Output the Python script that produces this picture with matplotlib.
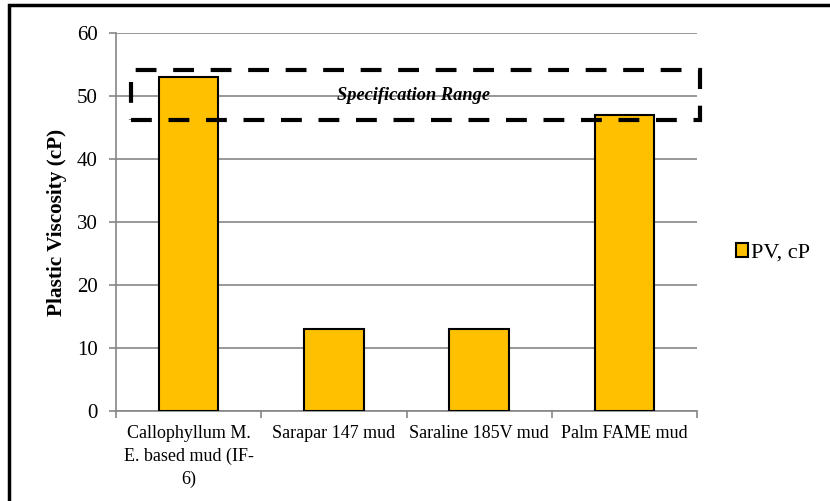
import matplotlib
matplotlib.use('Agg')
import matplotlib.pyplot as plt
from matplotlib.patches import Rectangle

plt.rcParams['font.family'] = ['Liberation Serif', 'DejaVu Serif']

categorias = ['Callophyllum M.\nE. based mud (IF-\n6)', 'Sarapar 147 mud',
              'Saraline 185V mud', 'Palm FAME mud']
pv = [53, 13, 13, 47]
serie_nome = 'PV, cP'
faixa_min = 46.2
faixa_max = 54.1

cinza = '#868686'
dourado = '#FFC000'

fig = plt.figure(figsize=(8.30, 5.01), dpi=100)
ax = fig.add_axes([116/830, 1 - 411/501, 581/830, 378/501])

x = list(range(len(categorias)))
ax.bar(x, pv, width=0.41, color=dourado, edgecolor='black', linewidth=1.5,
       label=serie_nome, zorder=3)

ax.set_xlim(-0.5, len(categorias) - 0.5)
ax.set_ylim(0, 60)
ax.set_yticks(range(0, 61, 10))
ax.yaxis.grid(True, color=cinza, linewidth=1.2)
ax.set_axisbelow(True)

ax.set_xticks(x)
ax.set_xticklabels(categorias, fontsize=13, linespacing=1.42)
ax.set_xticks([i - 0.5 for i in range(len(categorias) + 1)], minor=True)
ax.tick_params(axis='x', which='major', length=0, pad=10)
ax.tick_params(axis='x', which='minor', length=5, color=cinza, width=1.2)
ax.tick_params(axis='y', length=5, color=cinza, width=1.2, pad=8, labelsize=15)

for lado in ['top', 'right']:
    ax.spines[lado].set_visible(False)
for lado in ['left', 'bottom']:
    ax.spines[lado].set_color(cinza)
    ax.spines[lado].set_linewidth(1.2)

# faixa de especificacao tracejada
ax.add_patch(Rectangle((-0.397, faixa_min), 3.52 + 0.397, faixa_max - faixa_min,
                       fill=False, edgecolor='black', linewidth=3,
                       linestyle=(0, (5, 4)), clip_on=False, zorder=4))
ax.text(1.55, (faixa_min + faixa_max) / 2, 'Specification Range', ha='center',
        va='center', fontsize=13.2, fontweight='bold', fontstyle='italic', zorder=5)

fig.text(57/830, 1 - 222/501, 'Plastic Viscosity (cP)', rotation=90,
         ha='center', va='center', fontsize=15.3, fontweight='bold')

fig.legend(loc='center left', bbox_to_anchor=(736/830, 1 - 253/501),
           frameon=False, fontsize=16, handlelength=0.55, handleheight=0.55,
           handletextpad=0.12, borderpad=0, borderaxespad=0)

# moldura externa
fig.patches.append(Rectangle((9/830, -0.05), 1.1, 1 - 4.5/501 + 0.05,
                             transform=fig.transFigure, fill=False,
                             edgecolor='black', linewidth=2.5))

plt.savefig('out.png', dpi=100)
plt.close()
